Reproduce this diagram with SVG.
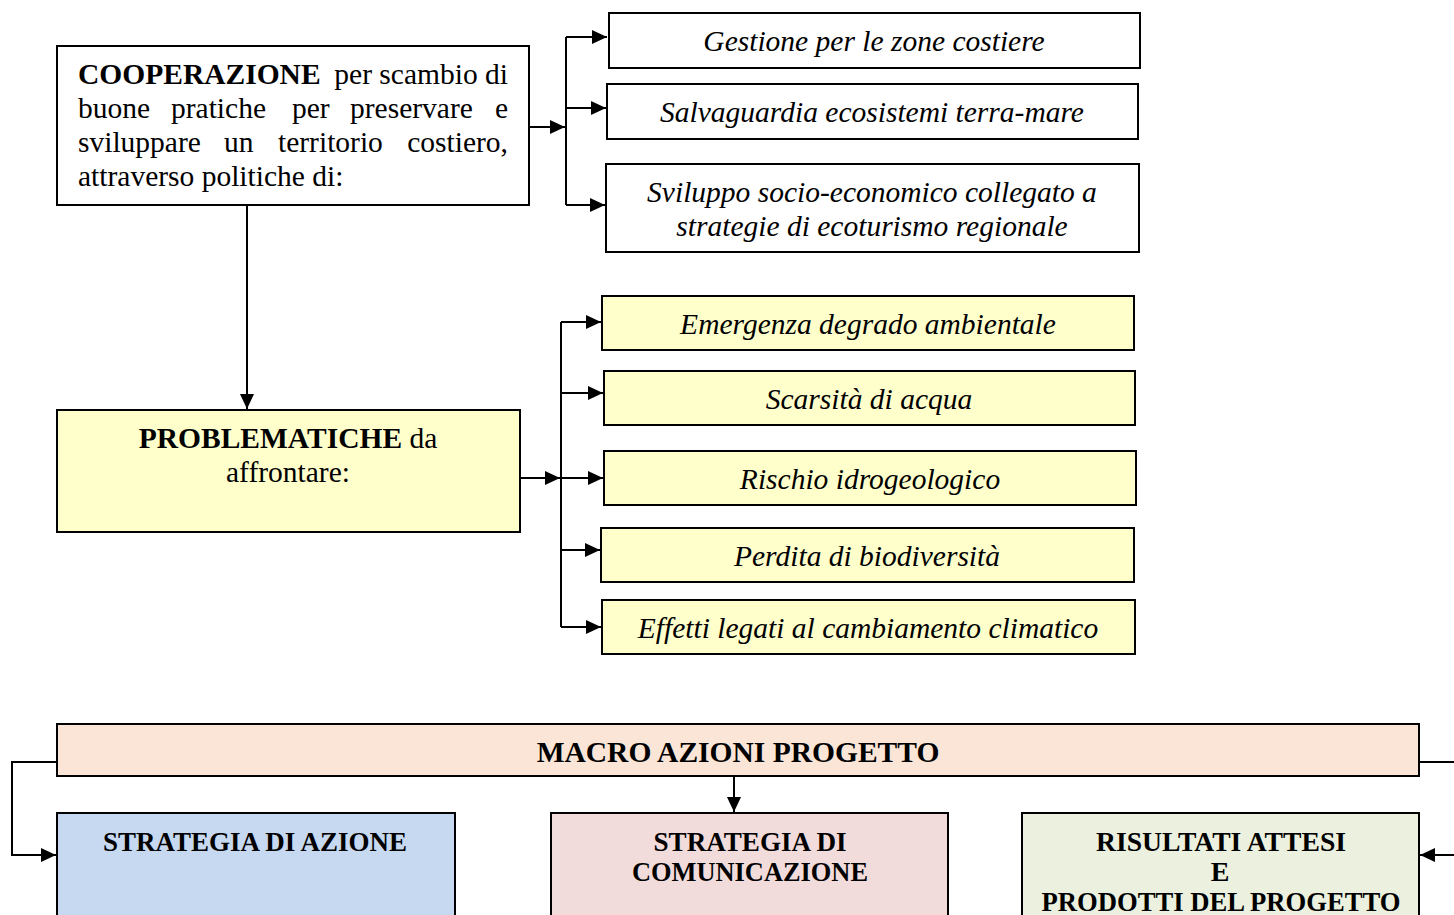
<svg xmlns="http://www.w3.org/2000/svg" width="1454" height="915" viewBox="0 0 1454 915">
<defs>
<marker id="ah" viewBox="0 0 15 14" refX="15" refY="7" markerWidth="15" markerHeight="14" markerUnits="userSpaceOnUse" orient="auto"><path d="M0,0 L15,7 L0,14 z" fill="#000"/></marker>
<style>
.box{stroke:#000;stroke-width:2}
.w{fill:#fff}
.y{fill:#FFFFCC}
.t{font-family:"Liberation Serif","Times New Roman",serif;font-size:29.5px;fill:#000}
.s{font-size:28px}
.i{font-style:italic;text-anchor:middle}
.b{font-weight:bold}
.c{text-anchor:middle}
.e{text-anchor:end}
.ln{fill:none;stroke:#000;stroke-width:2}
</style>
</defs>
<rect width="1454" height="915" fill="#fff"/>
<g id="cooperazione">
<rect class="box w" x="57" y="46" width="472" height="159"/>
<text class="t" y="84"><tspan x="78" class="b">COOPERAZIONE</tspan><tspan x="508" class="e">per scambio di</tspan></text>
<text class="t" y="118"><tspan x="78">buone</tspan><tspan x="171">pratiche</tspan><tspan x="292">per</tspan><tspan x="350">preservare</tspan><tspan x="508" class="e">e</tspan></text>
<text class="t" y="152"><tspan x="78">sviluppare</tspan><tspan x="224">un</tspan><tspan x="278">territorio</tspan><tspan x="508" class="e">costiero,</tspan></text>
<text class="t" x="78" y="186">attraverso politiche di:</text>
</g>
<g id="gestione"><rect class="box w" x="609" y="13" width="531" height="55"/><text class="t i" x="874" y="51">Gestione per le zone costiere</text></g>
<g id="salvaguardia"><rect class="box w" x="607" y="84" width="531" height="55"/><text class="t i" x="872" y="122">Salvaguardia ecosistemi terra-mare</text></g>
<g id="sviluppo"><rect class="box w" x="606" y="164" width="533" height="88"/><text class="t i" x="872" y="202">Sviluppo socio-economico collegato a</text><text class="t i" x="872" y="236">strategie di ecoturismo regionale</text></g>
<g id="problematiche"><rect class="box y" x="57" y="410" width="463" height="122"/><text class="t c" x="288" y="448"><tspan class="b">PROBLEMATICHE</tspan> da</text><text class="t c" x="288" y="482">affrontare:</text></g>
<g id="emergenza"><rect class="box y" x="602" y="296" width="532" height="54"/><text class="t i" x="868" y="334">Emergenza degrado ambientale</text></g>
<g id="scarsita"><rect class="box y" x="604" y="371" width="531" height="54"/><text class="t i" x="869" y="409">Scarsità di acqua</text></g>
<g id="rischio"><rect class="box y" x="604" y="451" width="532" height="54"/><text class="t i" x="870" y="489">Rischio idrogeologico</text></g>
<g id="perdita"><rect class="box y" x="601" y="528" width="533" height="54"/><text class="t i" x="867" y="566">Perdita di biodiversità</text></g>
<g id="effetti"><rect class="box y" x="602" y="600" width="533" height="54"/><text class="t i" x="868" y="638">Effetti legati al cambiamento climatico</text></g>
<g id="macro"><rect class="box" fill="#FBE5D6" x="57" y="724" width="1362" height="52"/><text class="t b c" x="738" y="762">MACRO AZIONI PROGETTO</text></g>
<g id="azione"><rect class="box" fill="#C6D9F1" x="57" y="813" width="398" height="110"/><text class="t s b c" x="255" y="851" textLength="304" lengthAdjust="spacingAndGlyphs">STRATEGIA DI AZIONE</text></g>
<g id="comunicazione"><rect class="box" fill="#F2DCDB" x="551" y="813" width="397" height="110"/><text class="t s b c" x="750" y="851" textLength="193" lengthAdjust="spacingAndGlyphs">STRATEGIA DI</text><text class="t s b c" x="750" y="881" textLength="236" lengthAdjust="spacingAndGlyphs">COMUNICAZIONE</text></g>
<g id="risultati"><rect class="box" fill="#EBF1DE" x="1022" y="813" width="397" height="110"/><text class="t s b c" x="1221" y="851" textLength="250" lengthAdjust="spacingAndGlyphs">RISULTATI ATTESI</text><text class="t s b c" x="1220" y="881">E</text><text class="t s b c" x="1221" y="911" textLength="359" lengthAdjust="spacingAndGlyphs">PRODOTTI DEL PROGETTO</text></g>
<g id="connectors">
<path class="ln" d="M529,127 H565" marker-end="url(#ah)"/>
<path class="ln" d="M566,37 V205"/>
<path class="ln" d="M566,37 H607" marker-end="url(#ah)"/>
<path class="ln" d="M566,108 H606" marker-end="url(#ah)"/>
<path class="ln" d="M566,205 H605" marker-end="url(#ah)"/>
<path class="ln" d="M247,205 V409" marker-end="url(#ah)"/>
<path class="ln" d="M520,478 H560" marker-end="url(#ah)"/>
<path class="ln" d="M561,322 V627"/>
<path class="ln" d="M561,322 H601" marker-end="url(#ah)"/>
<path class="ln" d="M561,393 H603" marker-end="url(#ah)"/>
<path class="ln" d="M561,478 H603" marker-end="url(#ah)"/>
<path class="ln" d="M561,550 H600" marker-end="url(#ah)"/>
<path class="ln" d="M561,627 H601" marker-end="url(#ah)"/>
<path class="ln" d="M57,762 H12 V855 H56" marker-end="url(#ah)"/>
<path class="ln" d="M1419,762 H1460 V855 H1420" marker-end="url(#ah)"/>
<path class="ln" d="M734,776 V812" marker-end="url(#ah)"/>
</g>
</svg>
